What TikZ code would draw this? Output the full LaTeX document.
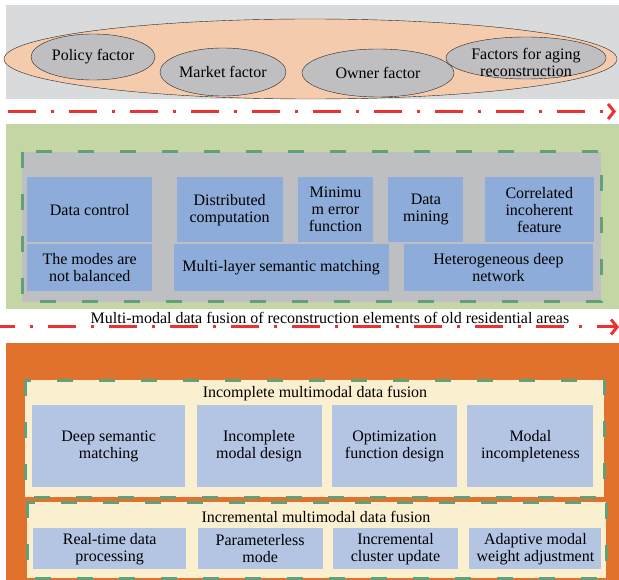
\documentclass[tikz,border=0pt]{standalone}
\usepackage{fontspec}
\setmainfont{Liberation Serif}
\usetikzlibrary{arrows.meta, shapes.geometric, positioning}

\definecolor{topgray}{RGB}{217,218,220}
\definecolor{peach}{RGB}{244,203,172}
\definecolor{facgray}{RGB}{191,191,194}
\definecolor{midgreen}{RGB}{196,214,164}
\definecolor{ingray}{RGB}{190,191,194}
\definecolor{blkblue}{RGB}{142,172,217}
\definecolor{lowband}{RGB}{224,114,46}
\definecolor{cream}{RGB}{250,240,208}
\definecolor{lblue}{RGB}{180,196,227}
\definecolor{dashgreen}{RGB}{98,160,122}
\definecolor{flowred}{RGB}{234,50,48}

\newcommand{\fs}{\fontsize{16}{17}\selectfont}

\begin{document}
\begin{tikzpicture}[
  x=1pt, y=-1pt,
  fac/.style={draw=black!85, ellipse, fill=facgray, inner sep=0pt, font=\fs},
  blk/.style={fill=blkblue, inner sep=0pt, align=center, font=\fs},
  lblk/.style={fill=lblue, inner sep=0pt, align=center, font=\fs},
  grp/.style={draw=dashgreen, line width=3pt, dash pattern=on 16pt off 26pt},
  flow/.style={draw=flowred, line width=3pt,
               dash pattern=on 28pt off 15pt on 3pt off 15pt,
               -{Straight Barb[length=6pt, width=15pt]}},
  lbl/.style={font=\fs, inner sep=0pt}
]
  \useasboundingbox (0,0) rectangle (619,580);

  % Factors
  \fill[topgray] (6,5) rectangle (619,99);
  \node[draw=black!85, ellipse, fill=peach, minimum width=613, minimum height=80]
       (all) at (310.5,59) {};
  \node[fac, minimum width=124, minimum height=46] (policy) at (93,57) {Policy factor};
  \node[fac, minimum width=126, minimum height=48] (market) at (223,72) {Market factor};
  \node[fac, minimum width=152, minimum height=48] (owner) at (378,73) {Owner factor};
  \node[fac, minimum width=160, minimum height=42] (aging) at (526,58) {};
  \node[lbl, align=center] at ([yshift=-4]aging.center) {Factors for aging\\reconstruction};

  \coordinate (f1) at (8,111.5);
  \coordinate (f2) at (616,111.5);
  \draw[flow] (f1) -- (f2);

  % Multi-modal fusion
  \fill[midgreen] (6,124) rectangle (619,309);
  \draw[grp, fill=ingray] (22,152) rectangle (601,302);

  \node[blk, minimum width=125, minimum height=65, anchor=north west]
       (ctrl) at (27,177) {Data control};
  \node[blk, minimum width=106, minimum height=65, right=24pt of ctrl]
       (dist) {Distributed\\computation};
  \node[blk, minimum width=75, minimum height=65, right=15pt of dist]
       (minerr) {Minimu\\m error\\function};
  \node[blk, minimum width=75, minimum height=65, right=15pt of minerr]
       (mining) {Data\\mining};
  \node[blk, minimum width=109, minimum height=65, right=21pt of mining]
       (corr) {Correlated\\incoherent\\feature};

  \node[blk, minimum width=125, minimum height=47, anchor=north west]
       (modes) at (27,244) {The modes are\\not balanced};
  \node[blk, minimum width=215, minimum height=47, right=21pt of modes]
       (multi) {Multi-layer semantic matching};
  \node[blk, minimum width=189, minimum height=47, right=15pt of multi]
       (hetero) {Heterogeneous deep\\network};

  \node[lbl] (cap) at (330,318) {Multi-modal data fusion of reconstruction elements of old residential areas};
  \coordinate (g1) at (0,327);
  \coordinate (g2) at (619,327);
  \draw[flow, dash phase=13pt] (g1) -- (g2);

  % Incomplete / incremental fusion
  \fill[lowband] (6,343) rectangle (619,580);

  \draw[grp, fill=cream] (25,380) rectangle (604,497);
  \node[lbl] (inc) at (315,394) {Incomplete multimodal data fusion};
  \node[lblk, minimum width=153, minimum height=82, anchor=north west]
       (deep) at (32,405) {Deep semantic\\matching};
  \node[lblk, minimum width=125, minimum height=82, right=11pt of deep]
       (icmp) {Incomplete\\modal design};
  \node[lblk, minimum width=125, minimum height=82, right=10pt of icmp]
       (optim) {Optimization\\function design};
  \node[lblk, minimum width=126, minimum height=82, right=10pt of optim]
       (modal) {Modal\\incompleteness};

  \draw[grp, fill=cream] (27,502) rectangle (606,578);
  \node[lbl] (incr) at (316,517) {Incremental multimodal data fusion};
  \node[lblk, minimum width=153, minimum height=41, anchor=north west]
       (real) at (33,528) {Real-time data\\processing};
  \node[lblk, minimum width=125, minimum height=41, right=11pt of real]
       (param) {Parameterless\\mode};
  \node[lblk, minimum width=125, minimum height=41, right=10pt of param]
       (clust) {Incremental\\cluster update};
  \node[lblk, minimum width=132, minimum height=41, right=11pt of clust]
       (adapt) {Adaptive modal\\weight adjustment};
\end{tikzpicture}
\end{document}
